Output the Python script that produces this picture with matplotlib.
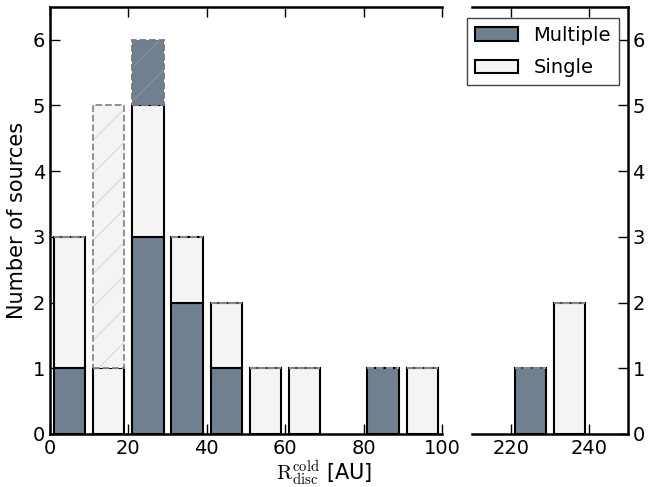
import numpy as np
import matplotlib
matplotlib.use("Agg")
import matplotlib.pyplot as plt
from matplotlib.patches import Patch

# bin edges (AU) and counts per 10 AU bin
left_edges = [0, 10, 20, 30, 40, 50, 60, 70, 80, 90]
multiple_left = [1, 0, 3, 2, 1, 0, 0, 0, 1, 0]
single_left = [2, 1, 2, 1, 1, 1, 1, 0, 0, 1]

right_edges = [210, 220, 230, 240]
multiple_right = [0, 1, 0, 0]
single_right = [0, 0, 2, 0]

# tentative (dashed, hatched) additions
extra_single_left = [0, 4, 0, 0, 0, 0, 0, 0, 0, 0]
extra_multiple_left = [0, 0, 1, 0, 0, 0, 0, 0, 0, 0]

c_mult = "#708090"
c_single = "#f4f4f4"
bin_w = 10
bar_w = 8

plt.rcParams["font.family"] = "DejaVu Sans"
plt.rcParams["font.size"] = 14
plt.rcParams["mathtext.fontset"] = "cm"
plt.rcParams["hatch.linewidth"] = 0.8

fig = plt.figure(figsize=(6.49, 4.87), dpi=100)
ax1 = fig.add_axes([0.077, 0.109, 0.604, 0.877])
ax2 = fig.add_axes([0.727, 0.109, 0.240, 0.877])


def draw(ax, edges, mult, single, extra_s=None, extra_m=None):
    x = np.array(edges) + bin_w / 2
    mult = np.array(mult)
    single = np.array(single)
    has_m = mult > 0
    ax.bar(x[has_m], mult[has_m], bar_w, color=c_mult, edgecolor="black",
           linewidth=1.5, zorder=2)
    has_s = single > 0
    ax.bar(x[has_s], single[has_s], bar_w, bottom=mult[has_s], color=c_single,
           edgecolor="black", linewidth=1.5, zorder=2)
    base = mult + single
    es = np.zeros_like(base) if extra_s is None else np.array(extra_s)
    em = np.zeros_like(base) if extra_m is None else np.array(extra_m)
    ax.bar(x, es, bar_w, bottom=base, color=c_single, edgecolor="#d8d8d8",
           linewidth=0, hatch="/", zorder=2)
    ax.bar(x, em, bar_w, bottom=base + es, color=c_mult, edgecolor="#8494a4",
           linewidth=0, hatch="/", zorder=2)
    # dashed outlines (also gives the dashed top edge of each filled bar)
    keep = (base + es + em) > 0
    ax.bar(x[keep], es[keep], bar_w, bottom=base[keep], fill=False,
           edgecolor="#888888", linewidth=1.3, linestyle="--", zorder=3)
    keep_m = em > 0
    ax.bar(x[keep_m], em[keep_m], bar_w, bottom=(base + es)[keep_m], fill=False,
           edgecolor="#777777", linewidth=1.3, linestyle="--", zorder=3)


draw(ax1, left_edges, multiple_left, single_left, extra_single_left, extra_multiple_left)
draw(ax2, right_edges, multiple_right, single_right)

for ax in (ax1, ax2):
    ax.set_ylim(0, 6.5)
    ax.set_yticks(range(7))
    ax.tick_params(direction="in", length=7, width=1, top=True, labelsize=14)
    for s in ax.spines.values():
        s.set_linewidth(1.8)

ax1.set_xlim(0, 100)
ax1.set_xticks([0, 20, 40, 60, 80, 100])
ax1.spines["right"].set_visible(False)
ax1.tick_params(right=False)
ax1.set_ylabel("Number of sources", fontsize=15, labelpad=4)

ax2.set_xlim(210, 250)
ax2.set_xticks([220, 240])
ax2.spines["left"].set_visible(False)
ax2.yaxis.tick_right()
ax2.tick_params(axis="y", direction="in", length=7, left=False, right=True)

fig.text(0.5, 0.016, r"$\mathrm{R}^{\rm cold}_{\rm disc}$ [AU]", ha="center",
         va="baseline", fontsize=15)

handles = [Patch(facecolor=c_mult, edgecolor="black", linewidth=1.5, label="Multiple"),
           Patch(facecolor=c_single, edgecolor="black", linewidth=1.5, label="Single")]
leg = ax2.legend(handles=handles, loc="upper right", bbox_to_anchor=(0.942, 0.974),
                 borderaxespad=0, fancybox=False, framealpha=1, fontsize=14,
                 labelspacing=0.7, handlelength=2.2)
leg.get_frame().set_edgecolor("#444444")

fig.savefig("out.png", dpi=100)
